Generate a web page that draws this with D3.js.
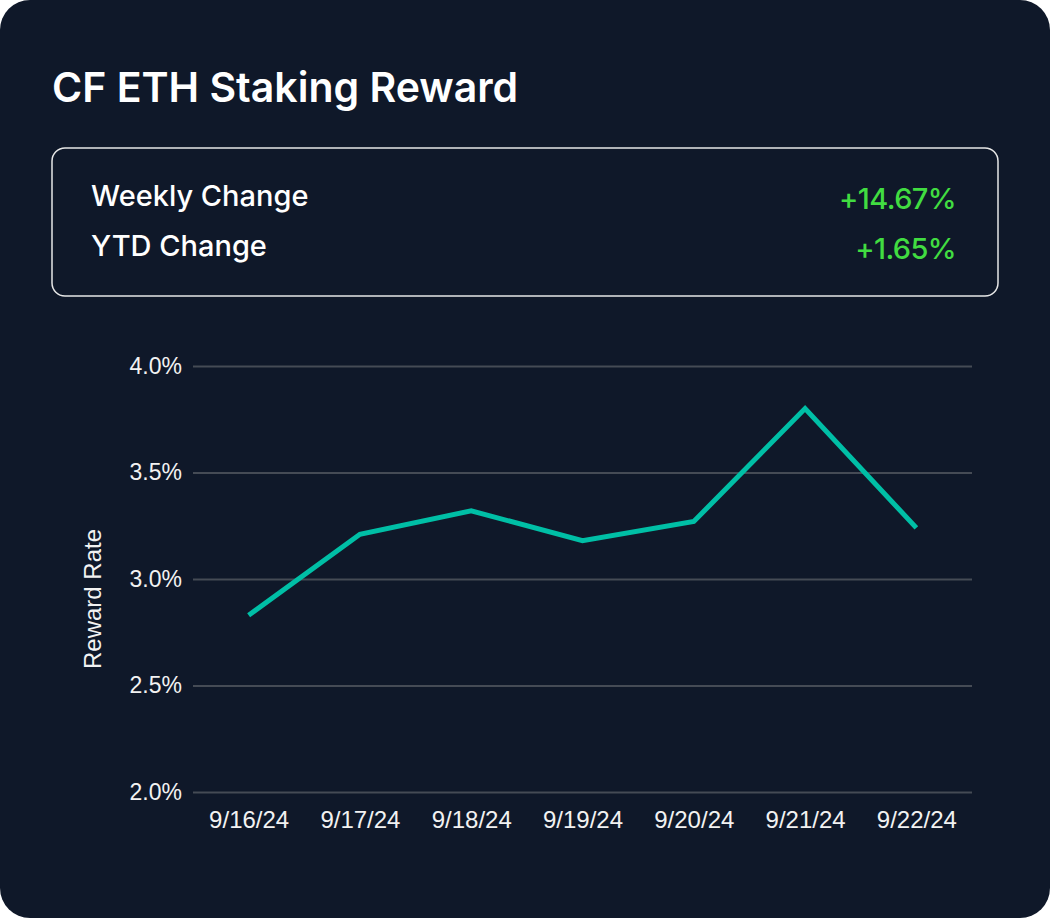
<!DOCTYPE html>
<html>
<head>
<meta charset="utf-8">
<script src="https://cdn.jsdelivr.net/npm/d3@7"></script>
<style>
  html, body { margin: 0; padding: 0; background: #ffffff; }
  svg { display: block; }
</style>
</head>
<body>
<svg id="chart" width="1050" height="918"></svg>
<script>
// chart data
const dates = ["9/16/24", "9/17/24", "9/18/24", "9/19/24", "9/20/24", "9/21/24", "9/22/24"];
const rewardRates = [2.83, 3.21, 3.32, 3.18, 3.27, 3.80, 3.24];
const yTicks = [2.0, 2.5, 3.0, 3.5, 4.0];
const statLabels = ["Weekly Change", "YTD Change"];
const statValues = ["+14.67%", "+1.65%"];

const svg = d3.select("#chart"),
    width = +svg.attr("width"),
    height = +svg.attr("height");

// card background
svg.append("rect")
    .attr("width", width)
    .attr("height", height)
    .attr("rx", 30)
    .attr("fill", "#0f1829");

// title
svg.append("text")
    .attr("x", 52)
    .attr("y", 102)
    .attr("fill", "#ffffff")
    .style("font-family", "Inter, 'Noto Sans', sans-serif")
    .style("font-weight", 600)
    .style("font-size", "41px")
    .text("CF ETH Staking Reward");

// stats box
svg.append("rect")
    .attr("x", 52)
    .attr("y", 148)
    .attr("width", 946)
    .attr("height", 148)
    .attr("rx", 13)
    .attr("fill", "none")
    .attr("stroke", "#e6e6e6")
    .attr("stroke-width", 1.5);

const stat = svg.append("g").selectAll("g")
    .data(statLabels)
    .enter()
    .append("g")
    .attr("transform", (d, i) => `translate(0,${206 + i * 50})`);

stat.append("text")
    .attr("x", 91)
    .attr("fill", "#ffffff")
    .style("font-family", "Inter, 'Noto Sans', sans-serif")
    .style("font-weight", 500)
    .style("font-size", "29px")
    .text(d => d);

stat.append("text")
    .attr("x", 956)
    .attr("y", 3)
    .attr("text-anchor", "end")
    .attr("fill", "#41dc41")
    .style("font-family", "Inter, 'Noto Sans', sans-serif")
    .style("font-weight", 500)
    .style("font-size", "29px")
    .style("letter-spacing", "-0.6px")
    .text((d, i) => statValues[i]);

// plot area
const margin = { left: 193, right: 78, top: 366, bottom: 126 };
const x = d3.scalePoint()
    .domain(dates)
    .range([margin.left, width - margin.right])
    .padding(0.5);
const y = d3.scaleLinear()
    .domain([2.0, 4.0])
    .range([height - margin.bottom, margin.top]);

const tickFont = "'Liberation Sans', Arial, sans-serif";

// y axis with grid lines
const yAxis = svg.append("g")
    .attr("transform", `translate(${margin.left},0)`)
    .call(d3.axisLeft(y)
        .tickValues(yTicks)
        .tickFormat(d => d.toFixed(1) + "%")
        .tickSizeInner(-(width - margin.left - margin.right))
        .tickSizeOuter(0)
        .tickPadding(11));
yAxis.select(".domain").remove();
yAxis.selectAll(".tick line")
    .attr("stroke", "#454b55")
    .attr("stroke-width", 2);
yAxis.selectAll(".tick text")
    .attr("fill", "#f2f2f2")
    .style("font-family", tickFont)
    .style("font-size", "23px");

// x axis
const xAxis = svg.append("g")
    .attr("transform", `translate(0,${height - margin.bottom})`)
    .call(d3.axisBottom(x).tickSize(0).tickPadding(19));
xAxis.select(".domain").remove();
xAxis.selectAll(".tick text")
    .attr("fill", "#f2f2f2")
    .style("font-family", tickFont)
    .style("font-size", "24px");

// y axis title
svg.append("text")
    .attr("transform", `translate(101,${(margin.top + height - margin.bottom) / 2 + 20}) rotate(-90)`)
    .attr("text-anchor", "middle")
    .attr("fill", "#f2f2f2")
    .style("font-family", tickFont)
    .style("font-size", "24px")
    .text("Reward Rate");

// line
const line = d3.line()
    .x((d, i) => x(dates[i]))
    .y(d => y(d));

svg.append("path")
    .datum(rewardRates)
    .attr("fill", "none")
    .attr("stroke", "#00bfa6")
    .attr("stroke-width", 5)
    .attr("stroke-linejoin", "miter")
    .attr("d", line);
</script>
</body>
</html>
